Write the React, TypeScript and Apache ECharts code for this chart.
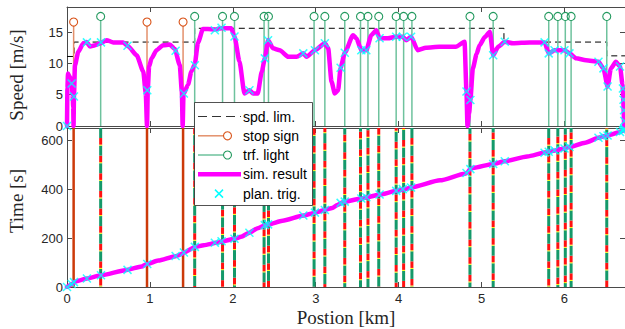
import React, { useEffect, useRef } from "react";
import * as echarts from "echarts";

// ---------- data ----------
const X_MAX = 6.73;
const SPEED_MAX = 19;
const TIME_MAX = 650;
const xTicks = [0, 1, 2, 3, 4, 5, 6];

// simulated speed profile [km] -> [m/s]
const speedPos = [0, 0.005, 0.012, 0.03, 0.05, 0.056, 0.068, 0.075, 0.079, 0.084, 0.096, 0.136, 0.197, 0.237, 0.277, 0.34, 0.4, 0.478, 0.558, 0.678, 0.739, 0.84, 0.92, 0.95, 0.965, 0.975, 0.99, 1.02, 1.08, 1.16, 1.24, 1.3, 1.36, 1.385, 1.395, 1.405, 1.46, 1.5, 1.54, 1.58, 1.64, 1.7, 1.78, 1.86, 1.98, 2.02, 2.08, 2.14, 2.2, 2.245, 2.3, 2.35, 2.386, 2.425, 2.485, 2.566, 2.67, 2.77, 2.85, 2.89, 2.99, 3.11, 3.15, 3.19, 3.23, 3.27, 3.3, 3.35, 3.45, 3.49, 3.55, 3.61, 3.67, 3.73, 3.77, 3.87, 3.97, 4.05, 4.09, 4.15, 4.23, 4.33, 4.49, 4.69, 4.795, 4.818, 4.83, 4.85, 4.865, 4.895, 4.94, 4.976, 5.04, 5.1, 5.14, 5.2, 5.28, 5.38, 5.58, 5.76, 5.81, 5.88, 5.94, 6.0, 6.06, 6.14, 6.26, 6.41, 6.47, 6.52, 6.56, 6.62, 6.67, 6.7, 6.72];
const speedVal = [0, 6, 8.4, 7.9, 7.5, 6.8, 5.0, 3.0, 0, 4.7, 9.7, 11.85, 13.2, 13.4, 12.7, 12.9, 13.2, 13.7, 13.35, 13.35, 12.7, 11.3, 8.7, 5.2, 0, 6.0, 9.5, 10.8, 12.1, 12.9, 13.0, 12.3, 9.7, 5.5, 0, 5.1, 6.6, 8.7, 9.8, 13.3, 15.5, 15.5, 15.4, 15.6, 15.6, 14.3, 10.3, 5.2, 5.7, 5.2, 5.2, 8.7, 10.8, 13.7, 12.4, 12.1, 11.05, 11.05, 11.6, 11.05, 12.1, 13.2, 12.4, 7.1, 5.2, 5.7, 9.3, 11.7, 14.5, 14.0, 12.1, 12.1, 14.5, 15.3, 14.0, 14.0, 14.25, 14.25, 13.7, 14.25, 12.1, 12.5, 12.65, 12.65, 13.45, 5.5, 0, 2.0, 4.15, 9.2, 11.5, 12.9, 14.2, 15.05, 11.3, 12.65, 13.45, 13.2, 13.35, 13.35, 11.6, 12.1, 12.1, 12.1, 11.6, 10.8, 10.5, 10.25, 9.2, 6.3, 9.2, 10.25, 9.5, 6.6, 0];

// simulated time profile [km] -> [s]
const timePos = [0, 0.03, 0.056, 0.08, 0.084, 0.15, 0.24, 0.41, 0.72, 0.9, 0.965, 1.1, 1.31, 1.395, 1.41, 1.54, 1.65, 1.82, 1.88, 2.02, 2.1, 2.2, 2.3, 2.39, 2.43, 2.6, 2.85, 2.99, 3.11, 3.2, 3.26, 3.33, 3.55, 3.62, 3.76, 3.98, 4.07, 4.15, 4.5, 4.8, 4.83, 4.86, 4.9, 5.14, 5.28, 5.55, 5.78, 5.82, 5.9, 5.98, 6.06, 6.25, 6.42, 6.5, 6.55, 6.65, 6.7, 6.73];
const timeVal = [0, 6, 12, 16, 20, 27, 35, 48, 70, 84, 94, 108, 126, 136, 141, 163, 171, 182, 187, 197, 205, 222, 240, 252, 256, 271, 292, 304, 315, 323, 335, 347, 362, 367, 377, 393, 400, 407, 436, 463, 468, 482, 487, 503, 514, 534, 551, 554, 559, 565, 572, 590, 611, 618, 622, 632, 638, 648];

// planning triggers
const trigPos = [0, 0.056, 0.084, 0.24, 0.41, 0.73, 0.968, 1.31, 1.41, 1.542, 1.783, 1.864, 2.02, 2.2, 2.386, 2.425, 2.85, 2.99, 3.11, 3.3, 3.35, 3.55, 3.61, 3.77, 3.97, 4.05, 4.15, 4.818, 4.865, 5.14, 5.28, 5.76, 5.81, 5.88, 6.0, 6.06, 6.41, 6.47, 6.52, 6.67, 6.705, 6.712, 6.718, 6.722];
const trigSpeed = [0, 6.8, 4.7, 13.35, 13.35, 12.8, 5.7, 12.0, 5.2, 9.7, 15.3, 15.7, 14.3, 5.7, 10.8, 13.7, 11.6, 12.1, 13.2, 9.3, 11.7, 12.1, 12.1, 14.0, 14.25, 14.25, 14.25, 5.5, 4.15, 11.3, 13.45, 13.35, 11.6, 12.1, 12.1, 11.6, 10.25, 9.2, 6.3, 9.5, 6.0, 4.2, 2.5, 0.8];
const trigTime = [0, 12, 20, 35, 48, 70, 94, 127, 141, 164, 181, 187, 197, 222, 253, 256, 292, 304, 315, 344, 349, 362, 367, 378, 393, 400, 407, 466, 482, 503, 514, 549, 553, 559, 566, 572, 610, 616, 619, 634, 638, 641, 644, 647];

// speed limit (stairs)
const limitBreaks = [0, 0.085, 1.54, 5.27, 6.51, X_MAX];
const limitVal = [11.1, 13.4, 15.6, 13.4, 11.2];

// stop signs and traffic lights
const stopPos = [0.08, 0.965, 1.4];
const stopStemTop = 16.6;
const lightPos = [0.406, 1.54, 1.876, 2.02, 2.377, 2.43, 2.98, 3.11, 3.35, 3.54, 3.63, 3.76, 3.97, 4.06, 4.16, 4.86, 5.14, 5.81, 5.92, 6.01, 6.08, 6.51];
const lightStemTop = 17.5;
const lightOffset = [33, 4, 28, 38, 19, 25, 1, 12, 47, 59, 65, 2, 18, 25, 33, 50, 56, 33, 39, 47, 56, 27];
const phaseNames = ["green", "yellow", "red"];
const phaseDur = [41, 4, 27];

// ---------- styles ----------
const C = {
  axis: "#4a4a4a",
  label: "#262626",
  magenta: "#FF00FF",
  cyan: "#00FFFF",
  stopStem: "#E3906B",
  stopCirc: "#D95319",
  stopLine: "#CC3A0A",
  lightStem: "#6EC29D",
  lightCirc: "#22995E",
  phase: { green: "#14996A", yellow: "#FFFF00", red: "#FF1111" } as Record<string, string>,
};
const SANS = '"Liberation Sans", Arial, Helvetica, sans-serif';
const SERIF = '"Liberation Serif", "Times New Roman", serif';
const X_SYMBOL = "path://M0,0L10,10M10,0L0,10";

function xAxisCfg(grid: number, position: string, showLabel: boolean) {
  return {
    type: "value",
    gridIndex: grid,
    position,
    min: 0,
    max: X_MAX,
    interval: 1,
    axisLine: { show: true, onZero: false, lineStyle: { color: C.axis, width: 1 } },
    axisTick: { show: true, inside: true, length: 5, lineStyle: { color: C.axis, width: 1 } },
    axisLabel: {
      show: showLabel,
      showMaxLabel: false,
      color: C.label,
      fontFamily: SANS,
      fontSize: 13,
      margin: 5,
      formatter: (v: number) => (xTicks.includes(v) ? String(v) : ""),
    },
    splitLine: { show: false },
  };
}
function yAxisCfg(grid: number, position: string, showLabel: boolean, max: number, interval: number) {
  return {
    type: "value",
    gridIndex: grid,
    position,
    min: 0,
    max,
    interval,
    axisLine: { show: true, onZero: false, lineStyle: { color: C.axis, width: 1 } },
    axisTick: { show: true, inside: true, length: 5, lineStyle: { color: C.axis, width: 1 } },
    axisLabel: {
      show: showLabel,
      showMaxLabel: false,
      color: C.label,
      fontFamily: SANS,
      fontSize: 13,
      margin: 4,
      formatter: (v: number) => (v % interval === 0 ? String(v) : ""),
    },
    splitLine: { show: false },
  };
}

function stemRender(stem: string, circ: string) {
  return (params: any, api: any) => {
    const x = api.value(0);
    const h = api.value(1);
    const p0 = api.coord([x, 0]);
    const p1 = api.coord([x, h]);
    return {
      type: "group",
      children: [
        { type: "line", shape: { x1: p0[0], y1: p0[1], x2: p1[0], y2: p1[1] + 4 }, style: { stroke: stem, lineWidth: 1.5 } },
        { type: "circle", shape: { cx: p1[0], cy: p1[1], r: 4 }, style: { fill: "none", stroke: circ, lineWidth: 1.1 } },
      ],
    };
  };
}

function App() {
  const ref = useRef<HTMLDivElement>(null);
  useEffect(() => {
    if (!ref.current) return;
    const chart = echarts.init(ref.current, undefined, { renderer: "svg" });

    const limitData: number[][] = [];
    for (let i = 0; i < limitVal.length; i++) {
      limitData.push([limitBreaks[i], limitVal[i]]);
      limitData.push([limitBreaks[i + 1], limitVal[i]]);
    }
    const cycle = phaseDur.reduce((a, b) => a + b, 0);

    const legendY = [116.5, 135.8, 155, 174.3, 193.6];
    const lx0 = 198;
    const lx1 = 241;
    const txt = (y: number, s: string) => ({
      type: "text",
      x: 243,
      y,
      z: 101,
      style: { text: s, font: `14px ${SANS}`, fill: "#000", verticalAlign: "middle", align: "left" },
    });

    const option: any = {
      animation: false,
      backgroundColor: "#fff",
      grid: [
        { left: 67, top: 7, width: 558, height: 119 },
        { left: 67, top: 128, width: 558, height: 159 },
      ],
      xAxis: [xAxisCfg(0, "bottom", false), xAxisCfg(0, "top", false), xAxisCfg(1, "bottom", true), xAxisCfg(1, "top", false)],
      yAxis: [
        yAxisCfg(0, "left", true, SPEED_MAX, 5),
        yAxisCfg(0, "right", false, SPEED_MAX, 5),
        yAxisCfg(1, "left", true, TIME_MAX, 200),
        yAxisCfg(1, "right", false, TIME_MAX, 200),
      ],
      series: [
        {
          name: "spd. lim.",
          type: "line",
          xAxisIndex: 0,
          yAxisIndex: 0,
          data: limitData,
          symbol: "none",
          lineStyle: { color: "#000", width: 1, type: [6, 4] },
          z: 2,
        },
        {
          name: "stop sign",
          type: "custom",
          xAxisIndex: 0,
          yAxisIndex: 0,
          data: stopPos.map((p) => [p, stopStemTop]),
          renderItem: stemRender(C.stopStem, C.stopCirc),
          z: 3,
        },
        {
          name: "trf. light",
          type: "custom",
          xAxisIndex: 0,
          yAxisIndex: 0,
          data: lightPos.map((p) => [p, lightStemTop]),
          renderItem: stemRender(C.lightStem, C.lightCirc),
          z: 3,
        },
        {
          name: "sim. result",
          type: "line",
          xAxisIndex: 0,
          yAxisIndex: 0,
          data: speedPos.map((p, i) => [p, speedVal[i]]),
          symbol: "none",
          smooth: 0.2,
          smoothMonotone: "x",
          lineStyle: { color: C.magenta, width: 4.5, cap: "round", join: "round" },
          z: 5,
        },
        {
          name: "plan. trig.",
          type: "scatter",
          xAxisIndex: 0,
          yAxisIndex: 0,
          data: trigPos.map((p, i) => [p, trigSpeed[i]]),
          symbol: X_SYMBOL,
          symbolSize: 8,
          itemStyle: { color: "rgba(0,0,0,0)", borderColor: C.cyan, borderWidth: 1.5 },
          z: 6,
        },
        {
          name: "stop line",
          type: "custom",
          xAxisIndex: 2,
          yAxisIndex: 2,
          data: stopPos.map((p) => [p, 0]),
          renderItem: (params: any, api: any) => {
            const x = api.value(0);
            const p0 = api.coord([x, 0]);
            const p1 = api.coord([x, TIME_MAX]);
            return { type: "line", shape: { x1: p0[0], y1: p0[1], x2: p1[0], y2: p1[1] }, style: { stroke: C.stopLine, lineWidth: 2.5 } };
          },
          z: 3,
        },
        {
          name: "signal phases",
          type: "custom",
          xAxisIndex: 2,
          yAxisIndex: 2,
          data: lightPos.map((p, i) => [p, lightOffset[i]]),
          renderItem: (params: any, api: any) => {
            const x = api.value(0);
            const off = api.value(1);
            const children: any[] = [];
            let t = off - cycle * Math.ceil(off / cycle);
            while (t < TIME_MAX) {
              for (let k = 0; k < phaseDur.length; k++) {
                const t0 = Math.max(0, t);
                const t1 = Math.min(TIME_MAX, t + phaseDur[k]);
                if (t1 > t0) {
                  const a = api.coord([x, t0]);
                  const b = api.coord([x, t1]);
                  children.push({
                    type: "rect",
                    shape: { x: a[0] - 1.5, y: b[1], width: 3, height: a[1] - b[1] },
                    style: { fill: C.phase[phaseNames[k]] },
                  });
                }
                t += phaseDur[k];
              }
            }
            return { type: "group", children };
          },
          z: 3,
        },
        {
          name: "sim. result time",
          type: "line",
          xAxisIndex: 2,
          yAxisIndex: 2,
          data: timePos.map((p, i) => [p, timeVal[i]]),
          symbol: "none",
          smooth: 0.2,
          smoothMonotone: "x",
          lineStyle: { color: C.magenta, width: 4.5, cap: "round", join: "round" },
          z: 5,
        },
        {
          name: "plan. trig. time",
          type: "scatter",
          xAxisIndex: 2,
          yAxisIndex: 2,
          data: trigPos.map((p, i) => [p, trigTime[i]]),
          symbol: X_SYMBOL,
          symbolSize: 8,
          itemStyle: { color: "rgba(0,0,0,0)", borderColor: C.cyan, borderWidth: 1.5 },
          z: 6,
        },
      ],
      graphic: [
        {
          type: "text",
          x: 16,
          y: 75,
          rotation: Math.PI / 2,
          style: { text: "Speed [m/s]", font: `19px ${SERIF}`, fill: C.label, align: "center", verticalAlign: "middle" },
        },
        {
          type: "text",
          x: 16,
          y: 201,
          rotation: Math.PI / 2,
          style: { text: "Time [s]", font: `19px ${SERIF}`, fill: C.label, align: "center", verticalAlign: "middle" },
        },
        {
          type: "text",
          x: 346,
          y: 317,
          style: { text: "Postion [km]", font: `19px ${SERIF}`, fill: C.label, align: "center", verticalAlign: "middle" },
        },
        {
          type: "rect",
          z: 100,
          shape: { x: 194.5, y: 102.5, width: 118, height: 103 },
          style: { fill: "#fff", stroke: "#262626", lineWidth: 0.8 },
        },
        { type: "line", z: 101, shape: { x1: lx0, y1: legendY[0], x2: lx1, y2: legendY[0] }, style: { stroke: "#333", lineWidth: 1, lineDash: [9, 5] } },
        txt(legendY[0], "spd. lim."),
        { type: "line", z: 101, shape: { x1: lx0, y1: legendY[1], x2: 223.5, y2: legendY[1] }, style: { stroke: C.stopStem, lineWidth: 1.5 } },
        { type: "circle", z: 101, shape: { cx: 227.5, cy: legendY[1], r: 4 }, style: { fill: "none", stroke: C.stopCirc, lineWidth: 1.1 } },
        txt(legendY[1], "stop sign"),
        { type: "line", z: 101, shape: { x1: lx0, y1: legendY[2], x2: 223.5, y2: legendY[2] }, style: { stroke: C.lightStem, lineWidth: 1.5 } },
        { type: "circle", z: 101, shape: { cx: 227.5, cy: legendY[2], r: 4 }, style: { fill: "none", stroke: C.lightCirc, lineWidth: 1.1 } },
        txt(legendY[2], "trf. light"),
        { type: "line", z: 101, shape: { x1: lx0, y1: legendY[3], x2: lx1, y2: legendY[3] }, style: { stroke: C.magenta, lineWidth: 4.5 } },
        txt(legendY[3], "sim. result"),
        { type: "line", z: 101, shape: { x1: 215, y1: legendY[4] - 4, x2: 223, y2: legendY[4] + 4 }, style: { stroke: C.cyan, lineWidth: 1.5 } },
        { type: "line", z: 101, shape: { x1: 223, y1: legendY[4] - 4, x2: 215, y2: legendY[4] + 4 }, style: { stroke: C.cyan, lineWidth: 1.5 } },
        txt(legendY[4], "plan. trig."),
      ],
    };
    chart.setOption(option);
    return () => chart.dispose();
  }, []);
  return <div ref={ref} style={{ position: "fixed", left: 0, top: 0, width: 625, height: 329, background: "#fff" }} />;
}

export default App;
